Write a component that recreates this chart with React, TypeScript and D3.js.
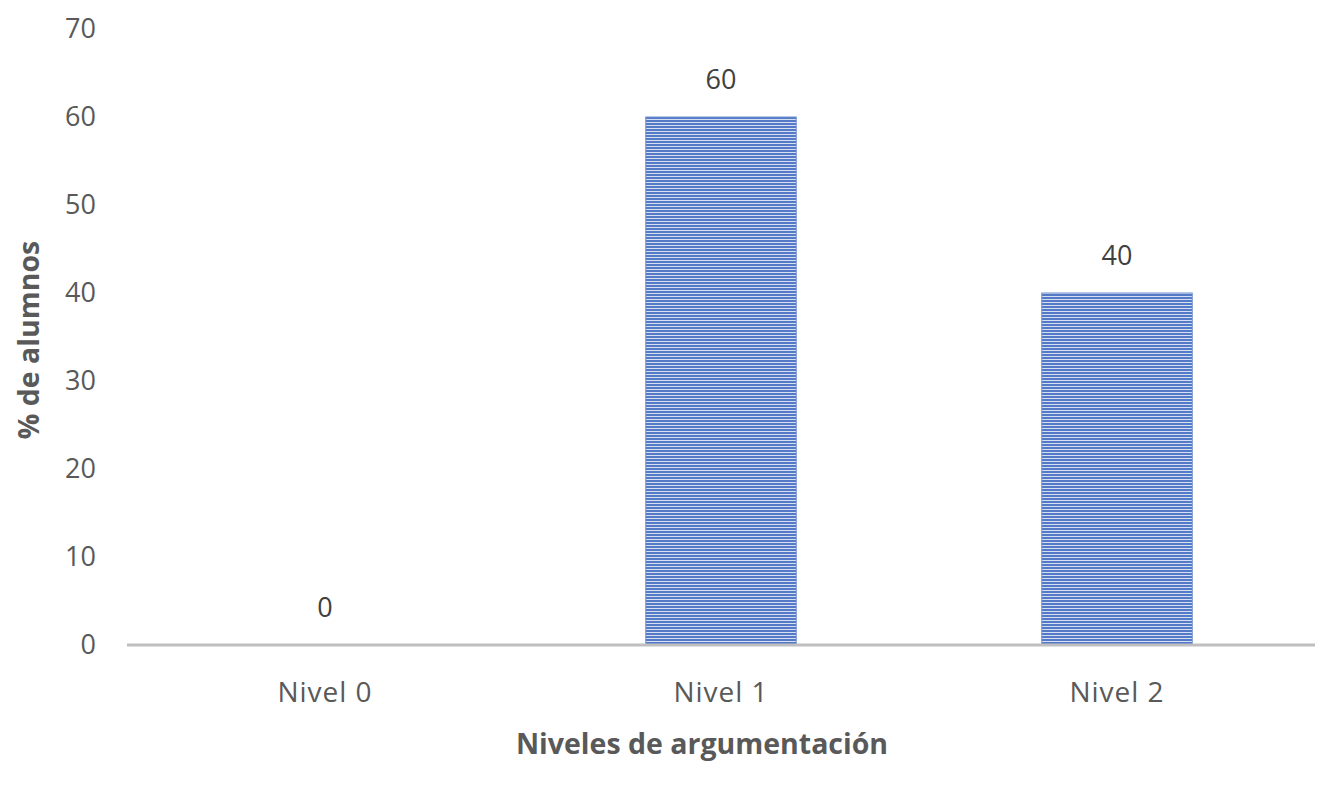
import React from "react";
import * as d3 from "d3";

const categories = ["Nivel 0", "Nivel 1", "Nivel 2"];
const values = [0, 60, 40];
const yTicks = [0, 10, 20, 30, 40, 50, 60, 70];
const xTitle = "Niveles de argumentación";
const yTitle = "% de alumnos";

const W = 1325;
const H = 800;
const FONT = "'Open Sans', Lato, sans-serif";

export default function App() {
  const left = 127;
  const right = 1315;
  const x = d3.scaleBand<string>().domain(categories).range([left, right]).paddingInner(0.62).paddingOuter(0.31);
  const y = d3.scaleLinear().domain([0, 70]).range([645, 29]);
  return (
    <svg width={W} height={H} style={{ position: "absolute", left: 0, top: 0 }}>
      <defs>
        <pattern id="stripes" width="6" height="3" patternUnits="userSpaceOnUse">
          <rect x="0" y="0" width="6" height="3" fill="#d6dff2" />
          <rect x="0" y="0" width="6" height="2" fill="#5479c6" />
        </pattern>
      </defs>
      <rect width={W} height={H} fill="#fff" />
      {yTicks.map((t) => (
        <text key={t} x={96} y={y(t)} dy="0.35em" textAnchor="end" fontFamily={FONT} fontSize={27} fill="#595959">
          {t}
        </text>
      ))}
      {categories.map((c, i) => (
        <g key={c}>
          {values[i] > 0 && (
            <rect
              x={x(c)}
              y={y(values[i])}
              width={x.bandwidth()}
              height={y(0) - y(values[i])}
              fill="url(#stripes)"
              stroke="#6d8fd0"
              strokeWidth={1}
            />
          )}
          <text x={(x(c) as number) + x.bandwidth() / 2} y={y(values[i]) - 37} dy="0.35em" textAnchor="middle" fontFamily={FONT} fontSize={27} fill="#404040">
            {values[i]}
          </text>
          <text x={(x(c) as number) + x.bandwidth() / 2} y={692} dy="0.35em" textAnchor="middle" fontFamily={FONT} fontSize={28} letterSpacing={1} fill="#595959">
            {c}
          </text>
        </g>
      ))}
      <line x1={left} x2={right} y1={y(0)} y2={y(0)} stroke="#bfbfbf" strokeWidth={3} />
      <text x={(left + right) / 2 - 19} y={744} dy="0.35em" textAnchor="middle" fontFamily={FONT} fontSize={28.5} fontWeight="bold" fill="#595959">
        {xTitle}
      </text>
      <text transform={`translate(29,340) rotate(-90)`} dy="0.35em" textAnchor="middle" fontFamily={FONT} fontSize={28.5} fontWeight="bold" fill="#595959">
        {yTitle}
      </text>
    </svg>
  );
}
